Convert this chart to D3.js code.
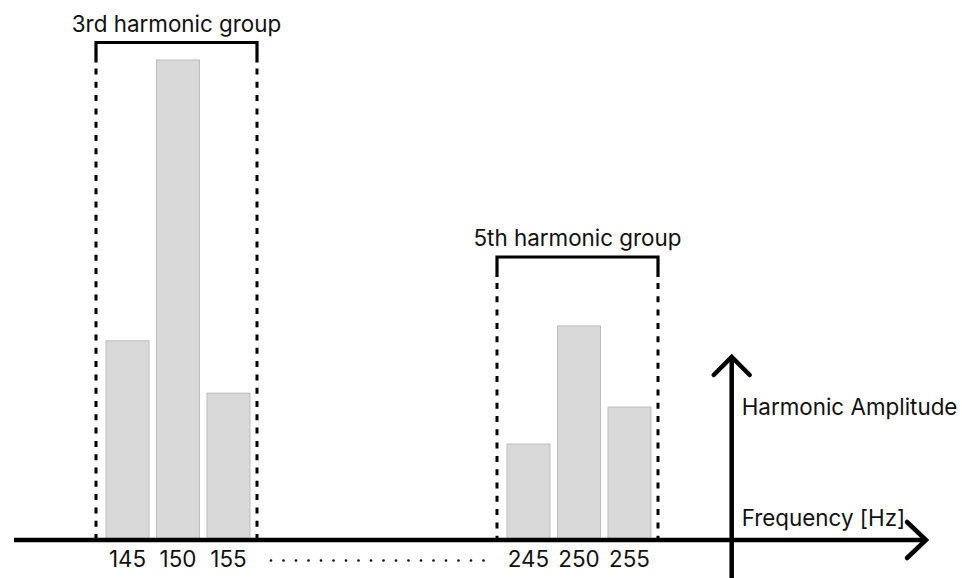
<!DOCTYPE html>
<html>
<head>
<meta charset="utf-8">
<script src="https://cdn.jsdelivr.net/npm/d3@7"></script>
<style>
html,body{margin:0;padding:0;background:#fff;}
svg{display:block;}
text{font-family:Inter,"Noto Sans",sans-serif;fill:#111;}
</style>
</head>
<body>
<svg id="chart" width="962" height="578"></svg>
<script>
// ---- data ----
const frequencies = [145, 150, 155, 245, 250, 255];
const amplitudes  = [41.5, 100, 30.6, 20, 44.6, 27.7];
const groupNames  = ["3rd harmonic group", "5th harmonic group"];
const groupFreqs  = [[145, 155], [245, 255]];
const tickLabels  = ["145", "150", "155", "245", "250", "255"];
const axisLabels  = ["Frequency [Hz]", "Harmonic Amplitude"];

// ---- layout ----
const W = 962, H = 578;
const svg = d3.select("#chart");
const x = d3.scaleLinear().domain([145, 155, 245, 255]).range([127.5, 228.5, 528.5, 629.5]);
const y = d3.scaleLinear().domain([0, 100]).range([540, 60]);
const barW = 43;
const bracketY = [42.5, 257];
const bracketSolid = 20;
const padL = 31.5, padR = 28.5;
const fs = 22.4;

// bars
svg.append("g").selectAll("rect").data(frequencies).join("rect")
  .attr("x", (d) => x(d) - barW / 2)
  .attr("y", (d, i) => y(amplitudes[i]))
  .attr("width", barW)
  .attr("height", (d, i) => y(0) - y(amplitudes[i]))
  .attr("fill", "#d9d9d9")
  .attr("stroke", "#bdbdbd")
  .attr("stroke-width", 1);

// group brackets
groupFreqs.forEach((g, i) => {
  const xl = x(g[0]) - padL, xr = x(g[1]) + padR, yt = bracketY[i];
  const gg = svg.append("g");
  gg.append("path")
    .attr("d", `M${xl},${yt + bracketSolid}V${yt}H${xr}V${yt + bracketSolid}`)
    .attr("fill", "none").attr("stroke", "#000").attr("stroke-width", 3.2)
    .attr("stroke-linejoin", "miter");
  [xl, xr].forEach(xx => {
    gg.append("line")
      .attr("x1", xx).attr("x2", xx)
      .attr("y1", yt + bracketSolid + 6).attr("y2", y(0))
      .attr("stroke", "#000").attr("stroke-width", 3)
      .attr("stroke-dasharray", "6 7.3");
  });
  gg.append("text")
    .attr("x", (xl + xr) / 2).attr("y", yt - 11)
    .attr("text-anchor", "middle")
    .attr("font-size", fs)
    .text(groupNames[i]);
});

// horizontal axis
const axisY = y(0);
const axisEnd = 926;
svg.append("line").attr("x1", 14).attr("x2", axisEnd).attr("y1", axisY).attr("y2", axisY)
  .attr("stroke", "#000").attr("stroke-width", 4.5);
svg.append("path")
  .attr("d", `M${axisEnd - 19},${axisY - 18}L${axisEnd},${axisY}L${axisEnd - 19},${axisY + 18}`)
  .attr("fill", "none").attr("stroke", "#000").attr("stroke-width", 4.5)
  .attr("stroke-linecap", "round").attr("stroke-linejoin", "miter");

// vertical axis
const vx = 731.7, vTop = 357;
svg.append("line").attr("x1", vx).attr("x2", vx).attr("y1", H + 2).attr("y2", vTop)
  .attr("stroke", "#000").attr("stroke-width", 4.5);
svg.append("path")
  .attr("d", `M${vx - 18},${vTop + 18}L${vx},${vTop}L${vx + 18},${vTop + 18}`)
  .attr("fill", "none").attr("stroke", "#000").attr("stroke-width", 4.5)
  .attr("stroke-linecap", "round").attr("stroke-linejoin", "miter");

// tick labels
svg.append("g").selectAll("text").data(frequencies).join("text")
  .attr("x", d => x(d)).attr("y", axisY + 27)
  .attr("text-anchor", "middle").attr("font-size", fs)
  .text((d, i) => tickLabels[i]);

// dotted break
svg.append("line").attr("x1", 271).attr("x2", 484).attr("y1", axisY + 20.5).attr("y2", axisY + 20.5)
  .attr("stroke", "#111").attr("stroke-width", 2.7).attr("stroke-linecap", "round")
  .attr("stroke-dasharray", "0 12.5");

// axis labels
svg.append("text").attr("x", vx + 10).attr("y", axisY - 14).attr("font-size", fs).text(axisLabels[0]);
svg.append("text").attr("x", vx + 10).attr("y", 415).attr("font-size", fs).text(axisLabels[1]);
</script>
</body>
</html>
